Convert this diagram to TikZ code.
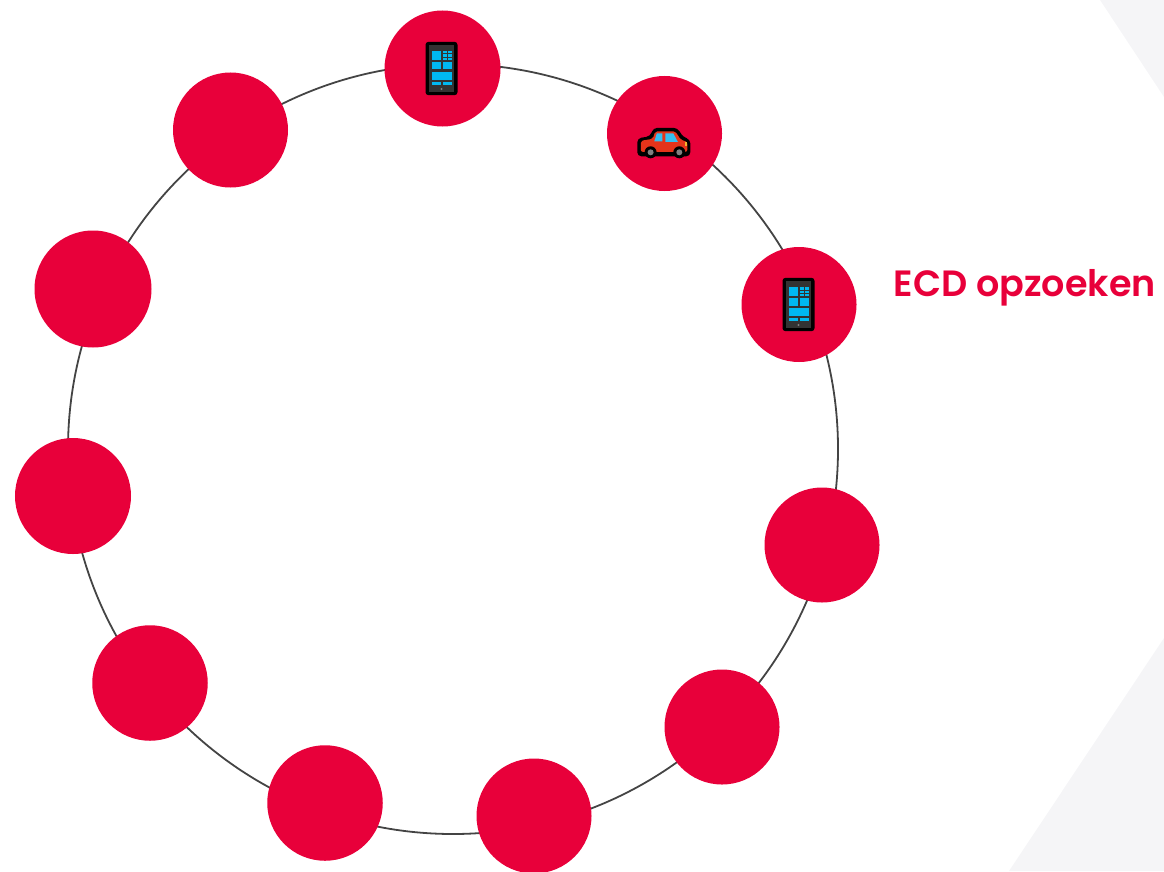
\documentclass[tikz,border=0pt]{standalone}
\usepackage{fontspec}
\setmainfont{Poppins SemiBold}
\usepackage{xcolor}
\definecolor{ecdred}{HTML}{E8003A}
\definecolor{ringgray}{HTML}{444444}
\definecolor{backgray}{HTML}{F5F5F7}
\definecolor{tileblue}{HTML}{00B9F2}
\definecolor{bodygray}{HTML}{333333}
\definecolor{carred}{HTML}{E5341A}
\definecolor{carblue}{HTML}{35BFEF}
\definecolor{lampyellow}{HTML}{F5B32E}
\tikzset{
	dot/.style={circle,fill=ecdred,minimum size=1.15cm,inner sep=0pt},
	ring/.style={circle,draw=ringgray,line width=.018cm,minimum size=7.7cm,inner sep=0pt},
	pics/phone/.style={code={
		\fill[black,rounded corners=.03cm] (-.16,-.267) rectangle (.16,.267);
		\fill[bodygray] (-.125,-.235) rectangle (.125,.235);
		\fill[tileblue] (-.1,.177) rectangle (-.007,.083);
		\fill[tileblue] (.017,.177) rectangle (.1,.083);
		\fill[tileblue] (-.1,.063) rectangle (-.007,-.01);
		\fill[tileblue] (.017,.063) rectangle (.1,-.01);
		\fill[tileblue] (-.1,-.037) rectangle (.1,-.117);
		\fill[tileblue] (-.1,-.13) rectangle (-.007,-.163);
		\fill[tileblue] (.017,-.13) rectangle (.1,-.163);
		\draw[bodygray,line width=.006cm] (.017,.147) -- (.1,.147) (.017,.115) -- (.1,.115) (.058,.177) -- (.058,.083);
		\fill[gray] (0,-.205) circle (.012);
	}},
	pics/car/.style={code={
		% outline first, then the body on top
		\fill[black,rounded corners=.04cm] (-.26,-.13) -- (-.26,.05) -- (-.13,.07) -- (-.1,.155) -- (.14,.155) -- (.2,.06) -- (.27,.04) -- (.27,-.13) -- cycle;
		\fill[carred,rounded corners=.02cm] (-.225,-.085) -- (-.225,.025) -- (-.105,.045) -- (-.08,.12) -- (.12,.12) -- (.175,.035) -- (.24,.015) -- (.24,-.085) -- cycle;
		\fill[carblue] (-.09,.02) -- (-.065,.1) -- (-.01,.1) -- (-.01,.02) -- cycle;
		\fill[carblue] (.02,.1) -- (.1,.1) -- (.145,.015) -- (.02,.015) -- cycle;
		\fill[lampyellow] (.215,.01) rectangle (.24,-.03);
		\fill[black] (-.127,-.09) circle (.06);
		\fill[black] (.16,-.09) circle (.06);
		\fill[gray] (-.127,-.09) circle (.03);
		\fill[gray] (.16,-.09) circle (.03);
	}}
}

\begin{document}
\begin{tikzpicture}
	\useasboundingbox (0,0) rectangle (11.64,8.71);
	\fill[backgray] (11,8.71) -- (11.64,7.74) -- (11.64,8.71) -- cycle;
	\fill[backgray] (11.64,2.33) -- (10.09,0) -- (11.64,0) -- cycle;
	
	\node[ring] at (4.53,4.22) (R) {};
	
	\node[dot,minimum size=1.16cm] at (4.425,8.025) (a) {};
	\node[dot] at (6.645,7.375) (b) {};
	\node[dot] at (7.99,5.665) (c) {};
	\node[dot] at (8.22,3.26) (d) {};
	\node[dot] at (7.22,1.44) (e) {};
	\node[dot] at (5.34,.55) (f) {};
	\node[dot,minimum size=1.155cm] at (3.25,.68) (g) {};
	\node[dot,minimum size=1.155cm] at (1.5,1.88) (h) {};
	\node[dot,minimum size=1.16cm] at (.73,3.75) (i) {};
	\node[dot,minimum size=1.17cm] at (.93,5.82) (j) {};
	\node[dot] at (2.305,7.41) (k) {};
	
	\pic at (4.415,8.025) {phone};
	\pic at (7.985,5.665) {phone};
	\pic at (6.633,7.277) {car};
	
	\node[text=ecdred,font=\fontsize{10.4pt}{12pt}\selectfont,anchor=base west,inner sep=0pt] at (8.93,5.75) (L) {ECD opzoeken};
\end{tikzpicture}
\end{document}
